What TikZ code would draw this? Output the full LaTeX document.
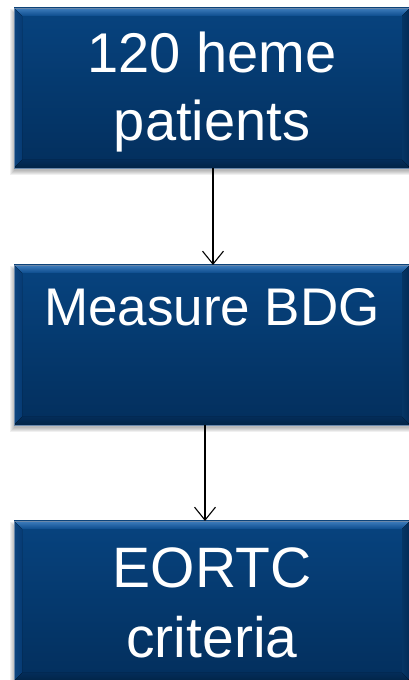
\documentclass[tikz,border=0pt]{standalone}
\usepackage{fontspec}
\setmainfont{Liberation Sans}
\usetikzlibrary{arrows.meta,backgrounds}

\definecolor{faceTop}{HTML}{07437F}
\definecolor{faceBot}{HTML}{032F5D}
\definecolor{bevelTopOut}{HTML}{3F7DBD}
\definecolor{bevelTopIn}{HTML}{0C4C8D}
\definecolor{bevelLeftOut}{HTML}{0E4580}
\definecolor{bevelLeftIn}{HTML}{063B74}
\definecolor{bevelRightOut}{HTML}{022A55}
\definecolor{bevelRightIn}{HTML}{053565}
\definecolor{bevelBotOut}{HTML}{022447}
\definecolor{bevelBotIn}{HTML}{032C58}
\definecolor{boxedge}{HTML}{6A88AA}

\tikzset{
  flowbox/.style={fill=faceBot, top color=faceTop, bottom color=faceBot,
    minimum width=396pt, minimum height=160pt, inner sep=0pt, outer sep=0pt},
  boxtext/.style={text=white, align=center, anchor=base, inner sep=0pt},
  flowarrow/.style={draw=black, line width=1.1pt,
    -{Straight Barb[length=13pt, width=21pt, line width=1.1pt]}},
}

% soft shadow behind a box node
\newcommand\rimshadow[1]{%
  \begin{scope}[on background layer]
  \foreach \g in {1,2,3,4,5}{%
    \fill[black, opacity=0.06]
      ([shift={(-\g pt+1pt,-\g pt-2pt)}]#1.south west) rectangle
      ([shift={(\g pt-1pt,\g pt-6pt)}]#1.north east);
  }%
  \end{scope}%
}
% bevelled rim of a box node
\newcommand\rimbevel[1]{%
  \fill[top color=bevelTopOut, bottom color=bevelTopIn]
    (#1.north west) -- (#1.north east) -- ([shift={(-8pt,-8pt)}]#1.north east)
    -- ([shift={(8pt,-8pt)}]#1.north west) -- cycle;
  \fill[left color=bevelLeftOut, right color=bevelLeftIn]
    (#1.north west) -- ([shift={(8pt,-8pt)}]#1.north west)
    -- ([shift={(8pt,8pt)}]#1.south west) -- (#1.south west) -- cycle;
  \fill[left color=bevelRightIn, right color=bevelRightOut]
    (#1.north east) -- ([shift={(-8pt,-8pt)}]#1.north east)
    -- ([shift={(-8pt,8pt)}]#1.south east) -- (#1.south east) -- cycle;
  \fill[top color=bevelBotIn, bottom color=bevelBotOut]
    (#1.south west) -- ([shift={(8pt,8pt)}]#1.south west)
    -- ([shift={(-8pt,8pt)}]#1.south east) -- (#1.south east) -- cycle;
  \draw[boxedge, line width=0.7pt] (#1.south west) rectangle (#1.north east);
  \rimshadow{#1}%
}

\begin{document}
\begin{tikzpicture}[x=1pt, y=1pt]
  \useasboundingbox (0,0) rectangle (409,680);
  \clip (0,0) rectangle (409,680);
  \begin{scope}[on background layer]
    \fill[white] (0,0) rectangle (409,680);
  \end{scope}

  \node[flowbox] (b1) at (212,592) {};
  \rimbevel{b1}
  \node[boxtext, font=\fontsize{56}{68}\selectfont] (t1) at ([yshift=-133pt]b1.north)
    {120 heme\\patients};

  \node[flowbox] (b2) at (212,335) {};
  \rimbevel{b2}
  \node[boxtext, font=\fontsize{53}{64}\selectfont] (t2) at ([yshift=-61pt]b2.north)
    {Measure BDG};

  \node[flowbox] (b3) at (212,79) {};
  \rimbevel{b3}
  \node[boxtext, font=\fontsize{57}{70}\selectfont] (t3) at ([yshift=-137pt]b3.north)
    {EORTC\\criteria};

  % connectors
  \draw[flowarrow] ([xshift=1pt]b1.south) -- ([xshift=1pt]b2.north);
  \draw[flowarrow] ([xshift=-7pt]b2.south) -- ([xshift=-7pt]b3.north);
\end{tikzpicture}
\end{document}
